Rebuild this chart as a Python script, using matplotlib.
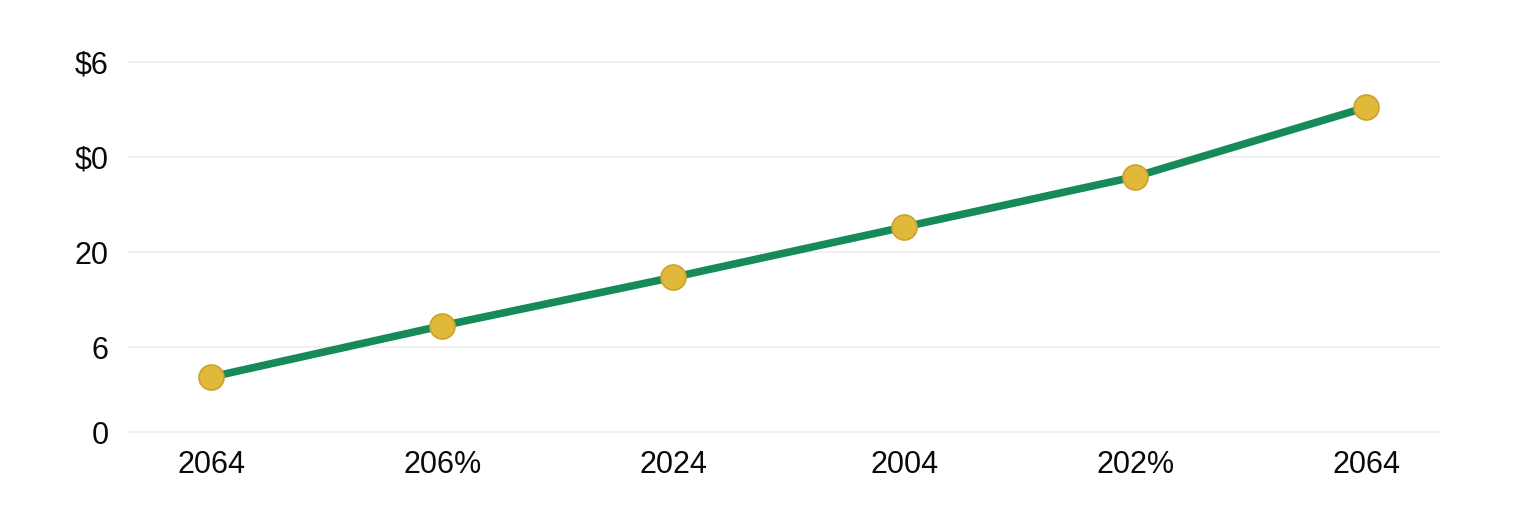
import matplotlib
matplotlib.use("Agg")
import matplotlib.pyplot as plt

# Data
x_labels = ["2064", "206%", "2024", "2004", "202%", "2064"]
values = [0.58, 1.12, 1.63, 2.16, 2.69, 3.42]
y_tick_values = [0, 0.895, 1.895, 2.895, 3.895]
y_tick_labels = ["0", "6", "20", "$0", "$6"]

plt.rcParams['font.family'] = ['Liberation Sans', 'DejaVu Sans']

W, H = 1536, 512
fig = plt.figure(figsize=(W / 100, H / 100), dpi=100)
left, right = 127 / W, 1440 / W
bottom, top = (H - 441.5) / H, (H - 40) / H
ax = fig.add_axes([left, bottom, right - left, top - bottom])

xs = list(range(len(values)))
ax.plot(xs, values, color="#168a58", linewidth=5.5, zorder=3,
        solid_capstyle="round")
ax.plot(xs, values, linestyle="none", marker="o", markersize=18,
        markerfacecolor="#e0b93a", markeredgecolor="#caa22c",
        markeredgewidth=1.2, zorder=4)

ax.set_xlim(-0.365, 5.32)
ax.set_ylim(-0.1, 4.13)
ax.set_xticks(xs)
ax.set_xticklabels(x_labels, fontsize=22)
ax.set_yticks(y_tick_values)
ax.set_yticklabels(y_tick_labels, fontsize=22)
ax.tick_params(axis="both", length=0, colors="#0a0a0a")
ax.tick_params(axis="x", pad=6)
ax.tick_params(axis="y", pad=13)
ax.grid(axis="y", color="#ededed", linewidth=1.2)
ax.grid(axis="x", visible=False)
ax.set_axisbelow(True)
for s in ax.spines.values():
    s.set_visible(False)

fig.savefig("out.png", dpi=100, facecolor="white")
